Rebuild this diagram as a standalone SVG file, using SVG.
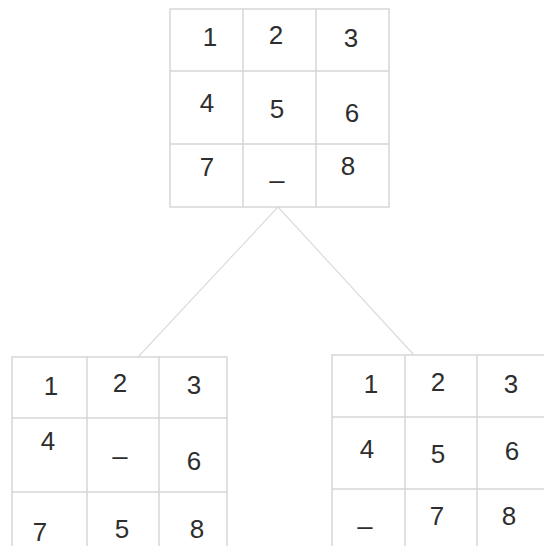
<svg xmlns="http://www.w3.org/2000/svg" width="544" height="546" viewBox="0 0 544 546">
<style>
.g{fill:none;stroke:#d6d6d6;stroke-width:1.5}
.c{fill:none;stroke:#dcdcdc;stroke-width:1.2}
text{font-family:"Liberation Sans",Arial,sans-serif;font-size:26px;fill:#2e2e2e;text-anchor:middle}
</style>
<rect width="544" height="546" fill="#fff"/>
<g id="connectors">
<line class="c" x1="278" y1="207" x2="138" y2="357"/>
<line class="c" x1="278" y1="207" x2="414" y2="355"/>
</g>
<g id="top">
<rect class="g" x="170" y="9" width="219" height="198"/>
<line class="g" x1="243" y1="9" x2="243" y2="207"/>
<line class="g" x1="316" y1="9" x2="316" y2="207"/>
<line class="g" x1="170" y1="71" x2="389" y2="71"/>
<line class="g" x1="170" y1="144" x2="389" y2="144"/>
<text x="210" y="46">1</text>
<text x="276" y="44">2</text>
<text x="351" y="47">3</text>
<text x="207" y="112">4</text>
<text x="277" y="118">5</text>
<text x="352" y="122">6</text>
<text x="207" y="176">7</text>
<text x="277" y="178">_</text>
<text x="348" y="175">8</text>
</g>
<g id="left">
<rect class="g" x="12" y="357" width="215" height="200"/>
<line class="g" x1="87" y1="357" x2="87" y2="557"/>
<line class="g" x1="159" y1="357" x2="159" y2="557"/>
<line class="g" x1="12" y1="418" x2="227" y2="418"/>
<line class="g" x1="12" y1="492" x2="227" y2="492"/>
<text x="51" y="395">1</text>
<text x="120" y="392">2</text>
<text x="194" y="394">3</text>
<text x="48" y="450">4</text>
<text x="120" y="454">_</text>
<text x="194" y="470">6</text>
<text x="40" y="541">7</text>
<text x="122" y="538">5</text>
<text x="197" y="538">8</text>
</g>
<g id="right">
<rect class="g" x="332" y="355" width="230" height="200"/>
<line class="g" x1="405" y1="355" x2="405" y2="555"/>
<line class="g" x1="477" y1="355" x2="477" y2="555"/>
<line class="g" x1="332" y1="417" x2="562" y2="417"/>
<line class="g" x1="332" y1="489" x2="562" y2="489"/>
<text x="371" y="393">1</text>
<text x="438" y="391">2</text>
<text x="511" y="393">3</text>
<text x="367" y="458">4</text>
<text x="438" y="463">5</text>
<text x="512" y="460">6</text>
<text x="365" y="524">_</text>
<text x="437" y="525">7</text>
<text x="509" y="525">8</text>
</g>
</svg>
